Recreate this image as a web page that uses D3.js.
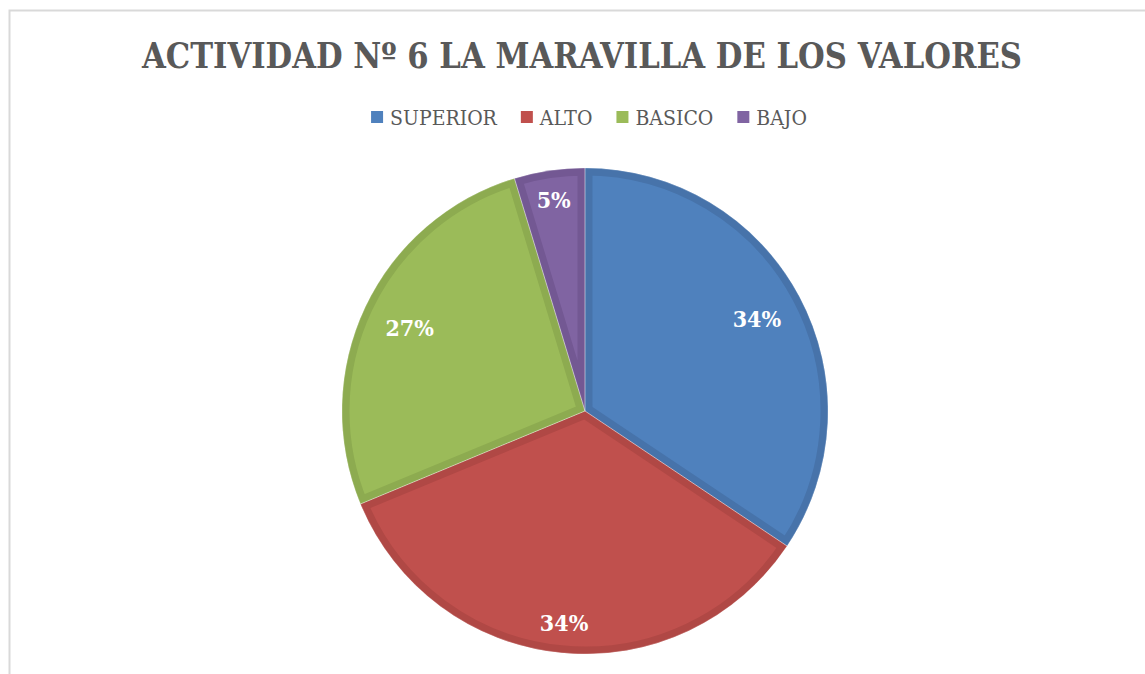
<!DOCTYPE html>
<html>
<head>
<meta charset="utf-8">
<title>Actividad 6</title>
<script src="https://d3js.org/d3.v7.min.js"></script>
<style>
  body{ margin:0; background:#fff; }
  svg text{ font-family: 'DejaVu Serif', 'Liberation Serif', serif; }
</style>
</head>
<body>
<div id="chart"></div>
<script>
// data
const categories = ['SUPERIOR', 'ALTO', 'BASICO', 'BAJO'];
const counts = [22, 22, 17, 3];
const labels = ['34%', '34%', '27%', '5%'];
const fills = ['#4f81bd', '#c0504d', '#9bbb59', '#8064a2'];
const edges = ['#4773aa', '#b04845', '#8dab50', '#735893'];
const chartTitle = 'ACTIVIDAD Nº 6 LA MARAVILLA DE LOS VALORES';

const W = 1145, H = 674;
const cx = 585, cy = 411, r = 243;

const svg = d3.select('#chart').append('svg').attr('width', W).attr('height', H);

// chart frame (only left and top edge visible)
svg.append('rect').attr('x', 9.5).attr('y', 10.5).attr('width', W + 20).attr('height', H + 20)
  .attr('fill', 'none').attr('stroke', '#d9d9d9').attr('stroke-width', 2);

svg.append('text').attr('x', 582).attr('y', 68).attr('text-anchor', 'middle')
  .attr('fill', '#595959').attr('font-weight', 'bold').attr('font-size', 35)
  .style('font-stretch', 'condensed')
  .attr('textLength', 880).attr('lengthAdjust', 'spacingAndGlyphs')
  .text(chartTitle);

// legend
const legend = svg.append('g');
let lx = 0;
categories.forEach(function(c, i){
  const g = legend.append('g').attr('transform', 'translate(' + lx + ',0)');
  g.append('rect').attr('x', 0).attr('y', -6).attr('width', 12).attr('height', 12).attr('fill', fills[i]);
  const t = g.append('text').attr('x', 19).attr('y', 7.5).attr('font-size', 21)
    .style('font-stretch', 'condensed').attr('fill', '#595959').text(c);
  lx += 19 + t.node().getComputedTextLength() + 24;
});
lx -= 24;
legend.attr('transform', 'translate(' + (589 - lx / 2) + ',117)');

// pie
const pie = d3.pie().sort(null).value(d => d);
const arcs = pie(counts);
const arc = d3.arc().innerRadius(0).outerRadius(r);

const defs = svg.append('defs');
const pg = svg.append('g').attr('transform', 'translate(' + cx + ',' + cy + ')');

arcs.forEach(function(a, i){
  const id = 'clip' + i;
  defs.append('clipPath').attr('id', id).attr('clipPathUnits', 'userSpaceOnUse')
    .append('path').attr('d', arc(a));
  const s = pg.append('g').attr('clip-path', 'url(#' + id + ')');
  s.append('path').attr('d', arc(a)).attr('fill', fills[i])
    .attr('stroke', edges[i]).attr('stroke-width', 15).attr('stroke-linejoin', 'miter');
});
// thin light seams between slices
pg.selectAll('path.seam').data(arcs).enter().append('path').attr('class', 'seam')
  .attr('d', arc).attr('fill', 'none').attr('stroke', '#ffffff').attr('stroke-opacity', 0.35).attr('stroke-width', 0.8);

// labels
pg.selectAll('text.lbl').data(arcs).enter().append('text').attr('class', 'lbl')
  .attr('transform', function(d){
    const m = (d.startAngle + d.endAngle) / 2;
    const c = Math.cos(m);
    const rr = r * 0.78 + 24 * c * c;
    return 'translate(' + (rr * Math.sin(m)) + ',' + (-rr * Math.cos(m)) + ')';
  })
  .attr('text-anchor', 'middle').attr('dy', '0.35em')
  .attr('fill', '#ffffff').attr('font-weight', 'bold').attr('font-size', 23)
  .style('font-stretch', 'condensed')
  .text((d, i) => labels[i]);
</script>
</body>
</html>
